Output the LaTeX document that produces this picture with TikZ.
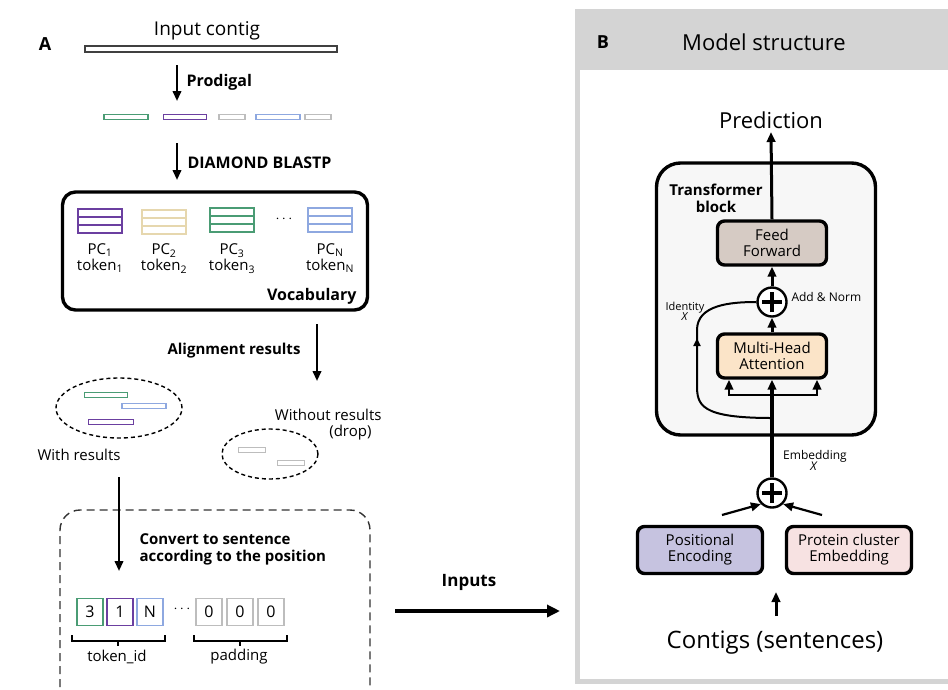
\documentclass[tikz,border=0pt]{standalone}
\usepackage{fontspec}
\setmainfont{Open Sans}
\usetikzlibrary{arrows.meta,calc,shapes.geometric}
\definecolor{cgreen}{HTML}{4A9C74}
\definecolor{cpurple}{HTML}{6B3FA0}
\definecolor{cyellow}{HTML}{E6D7AE}
\definecolor{cblue}{HTML}{8EA8E0}
\definecolor{cgray}{HTML}{BDBDBD}
\definecolor{bordergray}{HTML}{D4D4D4}
\definecolor{ffill}{HTML}{D6CBC4}
\definecolor{mhafill}{HTML}{FBE4C8}
\definecolor{posfill}{HTML}{C6C3E0}
\definecolor{pcefill}{HTML}{F7E2E2}
\definecolor{blockfill}{HTML}{F7F7F7}
\tikzset{
  fs/.style={font=\fontsize{#1}{\the\numexpr#1*6/5\relax}\selectfont},
  bar/.style={draw=#1, line width=1.6pt, fill=white, rectangle, inner sep=0pt, minimum height=6pt},
  arr/.style={-{Triangle[length=10pt,width=8.5pt]}, line width=2.2pt},
  tok/.style={draw=#1, line width=1.4pt, rectangle, inner sep=0pt, minimum width=26pt, minimum height=27pt, fs=16},
  mbox/.style={draw, line width=3.4pt, rounded corners=7pt, inner sep=0pt, minimum width=109pt, minimum height=44pt, align=center, fs=15},
  plus/.style={draw, circle, line width=2.4pt, minimum size=29pt, inner sep=0pt, fill=white, path picture={
     \draw[line width=3.2pt] ([xshift=-10pt]path picture bounding box.center) -- ([xshift=10pt]path picture bounding box.center);
     \draw[line width=3.2pt] ([yshift=-10pt]path picture bounding box.center) -- ([yshift=10pt]path picture bounding box.center);}},
  lbl/.style={font=\bfseries\fontsize{15}{18}\selectfont},
  lblb/.style={font=\bfseries\fontsize{16}{19}\selectfont},
}
\newcommand{\vicon}[4]{% name, color, x, y (center)
  \begin{scope}[shift={(#3,#4)}]
    \draw[#2, line width=1.5pt] (-22,-12) rectangle (22,12);
    \draw[#2, line width=1.5pt] (-22,-4) -- (22,-4) (-22,4) -- (22,4);
    \coordinate (#1) at (0,0);
  \end{scope}}
\begin{document}
\begin{tikzpicture}[x=1pt,y=-1pt]
\useasboundingbox (0,0) rectangle (948,689);
% ---------- Panel B frame ----------
\fill[bordergray] (575,9) rectangle (960,684);
\fill[white] (580,70) rectangle (960,679);
\node[font=\bfseries\fontsize{18}{20}\selectfont, anchor=center] (B) at (603,42) {B};
\node[fs=22, anchor=center] (title) at (764,42) {Model structure};
% ---------- Panel A ----------
\node[font=\bfseries\fontsize{18}{20}\selectfont] (A) at (45,44) {A};
\node[fs=19] (inp) at (207,31) {Input contig};
\node[bar=black!75, minimum width=252pt] (contig) at (211,49) {};
\coordinate (p1) at (177,65); \coordinate (p2) at (177,101);
\draw[arr] (p1) -- (p2);
\node[lblb, anchor=west] (prod) at (183,82) {Prodigal};
\node[bar=cgreen, minimum width=44pt, minimum height=5pt] (g1) at (126,117) {};
\node[bar=cpurple, minimum width=43pt, minimum height=5pt] (g2) at (185,117) {};
\node[bar=cgray, minimum width=26pt, minimum height=5pt] (g3) at (232,117) {};
\node[bar=cblue, minimum width=44pt, minimum height=5pt] (g4) at (278,117) {};
\node[bar=cgray, minimum width=26pt, minimum height=5pt] (g5) at (318,117) {};
\coordinate (d1) at (177,143); \coordinate (d2) at (177,180);
\draw[arr] (d1) -- (d2);
\node[lblb, anchor=west] (diam) at (184,163) {DIAMOND BLASTP};
% vocabulary box
\node[draw, line width=3.4pt, rounded corners=13pt, minimum width=305pt, minimum height=118pt, inner sep=0pt] (vocab) at (215,251) {};
\vicon{i1}{cpurple}{100}{221}
\vicon{i2}{cyellow}{164}{222}
\vicon{i3}{cgreen}{232}{220}
\vicon{i4}{cblue}{330}{220}
\node[fs=15] (dots1) at (284,219) {$\cdots$};
\node[fs=15, align=center, anchor=north] (t1) at (100,240) {PC\textsubscript{1}\\[-2pt]token\textsubscript{1}};
\node[fs=15, align=center, anchor=north] (t2) at (164,240) {PC\textsubscript{2}\\[-2pt]token\textsubscript{2}};
\node[fs=15, align=center, anchor=north] (t3) at (232,240) {PC\textsubscript{3}\\[-2pt]token\textsubscript{3}};
\node[fs=15, align=center, anchor=north] (t4) at (330,240) {PC\textsubscript{N}\\[-2pt]token\textsubscript{N}};
\node[lblb, anchor=east] (voc) at (360,296) {Vocabulary};
% alignment
\coordinate (a1) at (317,324); \coordinate (a2) at (317,381);
\draw[arr] (a1) -- (a2);
\node[lbl, anchor=east] (align) at (304,351) {Alignment results};
% with results ellipse
\node[draw, line width=1.4pt, ellipse, minimum width=126pt, minimum height=60pt, inner sep=0pt, dash pattern=on 4pt off 3pt] (ew) at (119,408) {};
\node[bar=cgreen, minimum width=43pt, minimum height=5pt] (w1) at (106,395) {};
\node[bar=cblue, minimum width=44pt, minimum height=5pt] (w2) at (144,406) {};
\node[bar=cpurple, minimum width=45pt, minimum height=5pt] (w3) at (111,422) {};
\node[fs=15, anchor=west] (wr) at (34,455) {With results};
% without results
\node[fs=15, align=right, anchor=east] (wo) at (385,425) {Without results\\[-2pt](drop)\hspace*{10pt}};
\node[draw, line width=1.4pt, ellipse, minimum width=96pt, minimum height=50pt, inner sep=0pt, dash pattern=on 4pt off 3pt] (ed) at (270,454) {};
\node[bar=cgray, minimum width=27pt, minimum height=5pt] (x1) at (252,450) {};
\node[bar=cgray, minimum width=27pt, minimum height=5pt] (x2) at (291,463) {};
% convert box
\draw[line width=1.4pt, dash pattern=on 8pt off 5pt, rounded corners=20pt, black!80] (60,700) -- (60,510) -- (370,510) -- (370,700);
\coordinate (c1) at (119,477); \coordinate (c2) at (119,571);
\draw[arr] (c1) -- (c2);
\node[lbl, align=left, anchor=west] (conv) at (136,549) {Convert to sentence\\[-1pt]according to the position};
\node[tok=cgreen] (k1) at (90,612) {3};
\node[tok=cpurple] (k2) at (120,612) {1};
\node[tok=cblue] (k3) at (150,612) {N};
\node[fs=15] (dots2) at (182,609) {$\cdots$};
\node[tok=cgray] (k4) at (209,612) {0};
\node[tok=cgray] (k5) at (240,612) {0};
\node[tok=cgray] (k6) at (271,612) {0};
\draw[line width=1.3pt] (72,635) -- (72,641) -- (165,641) -- (165,635) (118,641) -- (118,646);
\draw[line width=1.3pt] (194,635) -- (194,641) -- (287,641) -- (287,635) (240,641) -- (240,646);
\node[fs=15] (tid) at (117,657) {token\_id};
\node[fs=15] (pad) at (239,657) {padding};
% inputs arrow
\coordinate (in1) at (395,611); \coordinate (in2) at (560,611);
\draw[-{Triangle[length=13pt,width=12pt]}, line width=4.2pt] (in1) -- (in2);
\node[font=\bfseries\fontsize{17}{20}\selectfont] (inputs) at (469,582) {Inputs};
% ---------- Panel B content ----------
\node[fs=22] (pred) at (771,120) {Prediction};
\node[draw, line width=3.4pt, rounded corners=24pt, fill=blockfill, minimum width=219pt, minimum height=272pt, inner sep=0pt] (block) at (766,299) {};
\node[font=\bfseries\fontsize{15}{17}\selectfont, align=center] (tb) at (716,198) {Transformer\\block};
\node[mbox, fill=ffill] (ff) at (772,243) {Feed\\[-2pt]Forward};
\node[plus] (add) at (772,302) {};
\node[fs=12, anchor=west] (addl) at (788,297) {Add \& Norm};
\node[mbox, fill=mhafill] (mha) at (772,356) {Multi-Head\\[-2pt]Attention};
\draw[arr, line width=3pt] (ff.north) -- (pred.south);
\draw[arr, line width=3pt] (add.north) -- (ff.south);
\draw[arr, line width=3pt] (mha.north) -- (add.south);
\node[plus] (emb) at (772,493) {};
\coordinate (mid) at (772,395);
\coordinate (idbr) at (772,418);
\draw[line width=3.4pt] (emb.north) -- (mid);
\draw[arr, line width=3.4pt] (mid) -- (mha.south);
\draw[arr, line width=2.6pt] (mid) -| ([xshift=-43pt]mha.south);
\draw[arr, line width=2.6pt] (mid) -| ([xshift=45pt]mha.south);
\draw[line width=2pt] (idbr) .. controls (700,418) and (697,405) .. (697,385) -- (697,330) .. controls (697,305) and (730,302) .. (add.west);
\draw[-{Triangle[length=8pt,width=7pt]}, line width=2pt] (697,360) -- (697,338);
\node[fs=11, align=center] (idl) at (685,311) {Identity\\[-3pt]\textit{X}};
\node[fs=12, align=center] (embl) at (815,460) {Embedding\\[-3pt]\textit{X}\hspace*{2pt}};
\node[mbox, fill=posfill, minimum width=125pt, minimum height=47pt] (pos) at (700,550) {Positional\\[-2pt]Encoding};
\node[mbox, fill=pcefill, minimum width=125pt, minimum height=47pt] (pce) at (849,550) {Protein cluster\\[-2pt]Embedding};
\coordinate (pl) at (722,515); \coordinate (pr) at (822,515);
\draw[arr] (pl) -- (emb.south west);
\draw[arr] (pr) -- (emb.south east);
\node[fs=24] (ctg) at (775,643) {Contigs (sentences)};
\coordinate (cu) at (776,592);
\coordinate (cb) at (776,616);
\draw[arr, line width=3pt] (cb) -- (cu);
\end{tikzpicture}
\end{document}
